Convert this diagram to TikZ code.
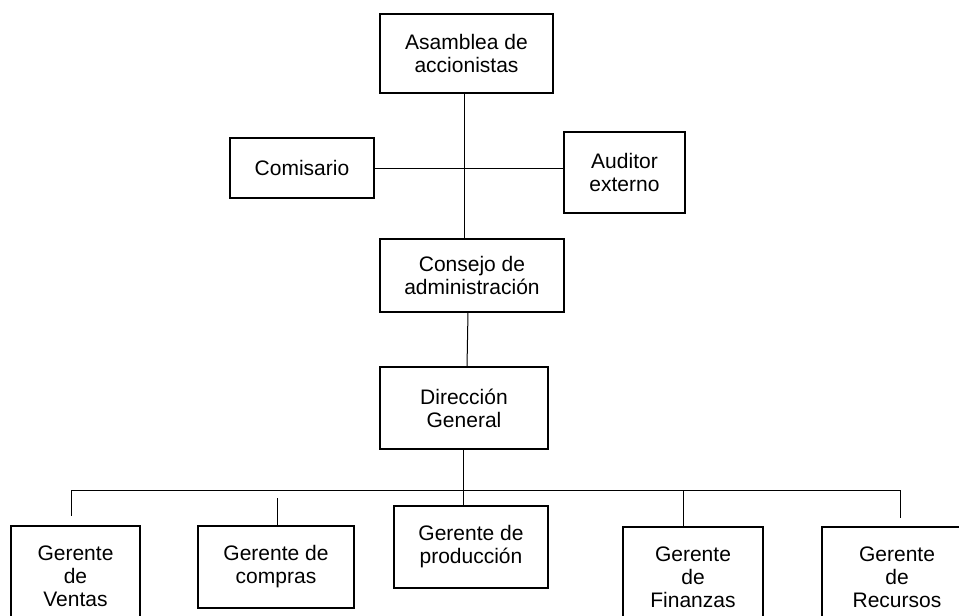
\documentclass[tikz,border=0pt]{standalone}
\usepackage{fontspec}
\setmainfont{Liberation Sans}
\begin{document}
\begin{tikzpicture}[x=1pt,y=-1pt,
  box/.style={draw=black,line width=2.6pt,fill=white,align=center,inner sep=0pt,
    font=\fontsize{21}{23}\selectfont},
  conn/.style={draw=black,line width=1pt}]
\useasboundingbox (0,0) rectangle (959,616);
\clip (0,0) rectangle (959,616);
\fill[white] (0,0) rectangle (959,616);
\node[box,minimum width=173pt,minimum height=79pt] (asamblea) at (466.5,53.5) {Asamblea de\\accionistas};
\node[box,minimum width=144pt,minimum height=60pt] (comisario) at (302,168) {Comisario};
\node[box,minimum width=121pt,minimum height=81pt] (auditor) at (624.5,172.5) {Auditor\\externo};
\node[box,minimum width=184pt,minimum height=73pt] (consejo) at (472,275.5) {Consejo de\\administraci\'on};
\node[box,minimum width=168pt,minimum height=82pt] (direccion) at (464,408) {Direcci\'on\\General};
\node[box,minimum width=129pt,minimum height=100pt] (ventas) at (75.5,576) {Gerente\\de\\Ventas};
\node[box,minimum width=156pt,minimum height=82pt] (compras) at (276,567) {Gerente de\\compras};
\node[box,minimum width=154pt,minimum height=82pt] (produccion) at (471,547) {Gerente de\\producci\'on};
\node[box,minimum width=140pt,minimum height=100pt] (finanzas) at (693,577) {Gerente\\de\\Finanzas};
\node[box,minimum width=150pt,minimum height=100pt] (recursos) at (897,577) {Gerente\\de\\Recursos};
% connectors
\coordinate (a1) at (464,93);
\coordinate (a2) at (464,239);
\draw[conn] (a1) -- (a2);
\draw[conn] (comisario.east) -- (auditor.west |- 0,168);
\draw[conn] (468,312) coordinate (c1) -- (467,367) coordinate (c2);
\coordinate (busL) at (71,490);
\coordinate (busR) at (900,490);
\coordinate (busC) at (463,490);
\draw[conn] (direccion.south -| busC) -- (busC);
\draw[conn] (busL) -- (busR);
\draw[conn] (busL) -- (71,516) coordinate (tv);
\draw[conn] (277,498) coordinate (tc) -- (compras.north -| tc);
\draw[conn] (busC) -- (produccion.north -| busC);
\draw[conn] (683,490) coordinate (tf) -- (finanzas.north -| tf);
\draw[conn] (busR) -- (900,518) coordinate (tr);
\end{tikzpicture}
\end{document}
